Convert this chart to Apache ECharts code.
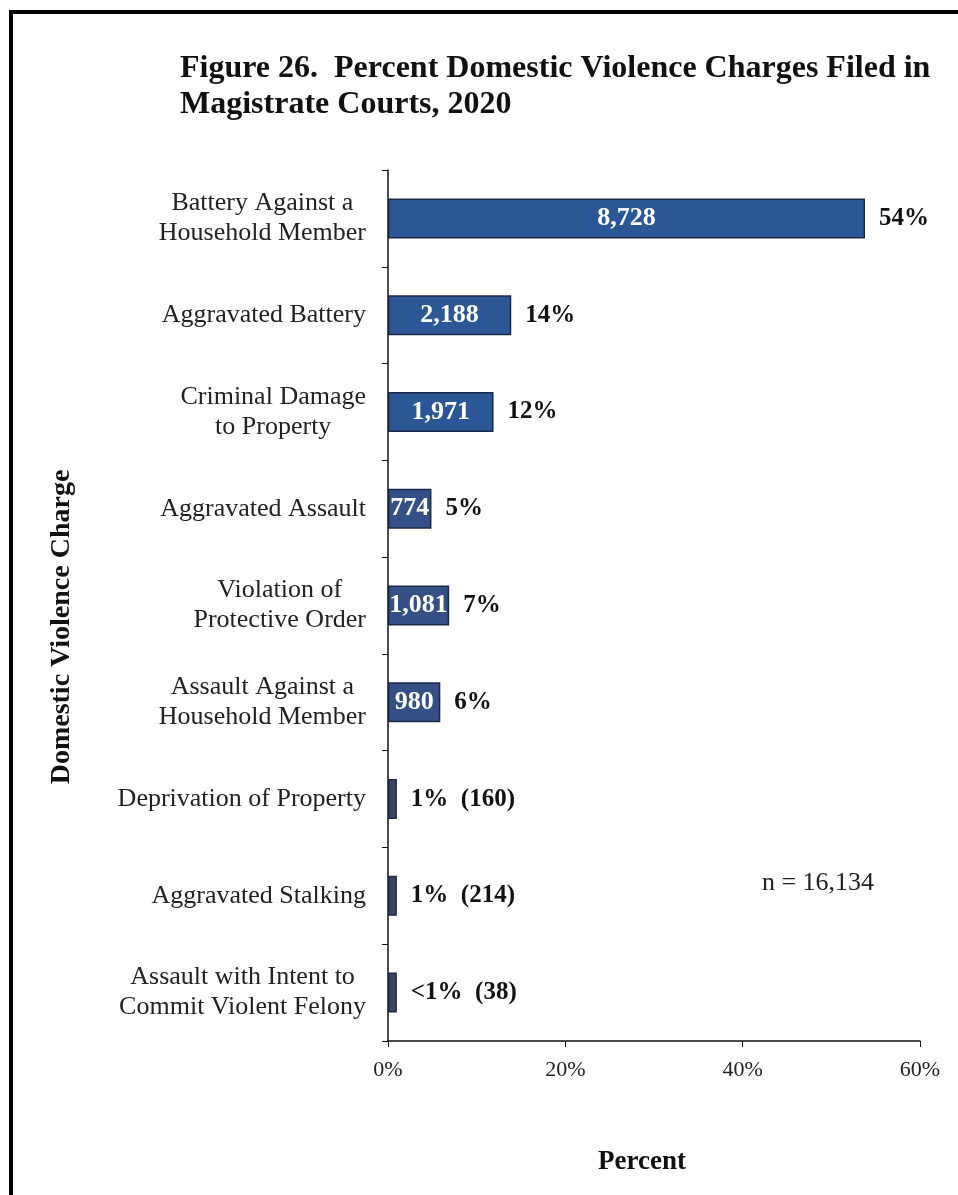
<!DOCTYPE html>
<html lang="en">
<head>
  <meta charset="UTF-8">
  <title>Figure 26</title>
  <style>
    html, body { margin: 0; padding: 0; background: #fff; }
    #chart { width: 958px; height: 1195px; }
  </style>
</head>
<body>
  <div id="chart"></div>
  <script src="https://cdn.jsdelivr.net/npm/echarts@6/dist/echarts.min.js"></script>
  <script>
    // data
    var categories = [
      'Battery Against a\nHousehold Member',
      'Aggravated Battery',
      'Criminal Damage\nto Property',
      'Aggravated Assault',
      'Violation of\nProtective Order',
      'Assault Against a\nHousehold Member',
      'Deprivation of Property',
      'Aggravated Stalking',
      'Assault with Intent to\nCommit Violent Felony'
    ];
    var percents = [53.8, 13.9, 11.9, 4.9, 6.9, 5.9, 1.0, 1.0, 1.0];
    var counts = ['8,728', '2,188', '1,971', '774', '1,081', '980', '160', '214', '38'];
    var pctLabels = ['54%', '14%', '12%', '5%', '7%', '6%', '1%', '1%', '<1%'];
    var xTicks = [0, 20, 40, 60];
    var total = 'n = 16,134';

    var serif = '"Liberation Serif", "Times New Roman", serif';
    var chart = echarts.init(document.getElementById('chart'));

    var option = {
      backgroundColor: '#fff',
      animation: false,
      textStyle: { fontFamily: serif },
      grid: { left: 388, right: 38, top: 170, bottom: 154 },
      graphic: [
        { type: 'line', shape: { x1: 9, y1: 12, x2: 958, y2: 12 }, style: { stroke: '#000', lineWidth: 4 } },
        { type: 'line', shape: { x1: 11, y1: 10, x2: 11, y2: 1195 }, style: { stroke: '#000', lineWidth: 4 } },
        {
          type: 'text', left: 180, top: 51,
          style: {
            text: 'Figure 26.  Percent Domestic Violence Charges Filed in\nMagistrate Courts, 2020',
            font: 'bold 32px ' + serif, fill: '#111', lineHeight: 36
          }
        },
        {
          type: 'text', x: 62, y: 627, rotation: Math.PI / 2,
          style: {
            text: 'Domestic Violence Charge', font: 'bold 28px ' + serif,
            fill: '#111', align: 'center', verticalAlign: 'middle'
          }
        },
        {
          type: 'text', x: 818, y: 883,
          style: {
            text: total, font: '26px ' + serif, fill: '#222',
            align: 'center', verticalAlign: 'middle'
          }
        }
      ],
      xAxis: {
        type: 'value',
        min: xTicks[0],
        max: xTicks[xTicks.length - 1],
        interval: 20,
        name: 'Percent',
        nameLocation: 'middle',
        nameGap: 108,
        nameTextStyle: { fontFamily: serif, fontWeight: 'bold', fontSize: 27, color: '#111', padding: [0, 24, 0, 0] },
        axisLine: { show: true, lineStyle: { color: '#111', width: 1.5 } },
        axisTick: { show: true, length: 6, lineStyle: { color: '#111' } },
        axisLabel: { formatter: '{value}%', fontSize: 22, color: '#222', margin: 18, fontFamily: serif },
        splitLine: { show: false }
      },
      yAxis: {
        type: 'category',
        inverse: true,
        data: categories,
        axisLine: { show: true, lineStyle: { color: '#111', width: 1.5 } },
        axisTick: { show: true, length: 6, lineStyle: { color: '#111' } },
        axisLabel: {
          margin: 22,
          align: 'right',
          formatter: function (val) {
            return val.split('\n').map(function (l) { return '{c|' + l + '}'; }).join('\n');
          },
          rich: {
            c: { align: 'center', fontSize: 26, lineHeight: 30, color: '#222', fontFamily: serif }
          }
        }
      },
      series: [
        {
          type: 'bar',
          data: percents,
          barWidth: 40,
          itemStyle: {
            color: function (p) {
              return p.dataIndex < 3 ? '#2c5796' : (p.dataIndex < 6 ? '#345086' : '#3d4466');
            },
            borderColor: '#1b2945',
            borderWidth: 1.5
          },
          label: {
            show: true,
            position: 'inside',
            formatter: function (p) { return p.dataIndex < 6 ? counts[p.dataIndex] : ''; },
            color: '#fff',
            fontWeight: 'bold',
            fontSize: 26,
            fontFamily: serif
          },
          z: 2
        },
        {
          type: 'bar',
          data: percents,
          barWidth: 40,
          barGap: '-100%',
          itemStyle: { color: 'transparent' },
          label: {
            show: true,
            position: 'right',
            distance: 14,
            formatter: function (p) {
              var i = p.dataIndex;
              return i < 6 ? pctLabels[i] : pctLabels[i] + '  (' + counts[i] + ')';
            },
            color: '#111',
            fontWeight: 'bold',
            fontSize: 25,
            fontFamily: serif
          },
          silent: true,
          z: 3
        }
      ]
    };

    chart.setOption(option);
  </script>
</body>
</html>
